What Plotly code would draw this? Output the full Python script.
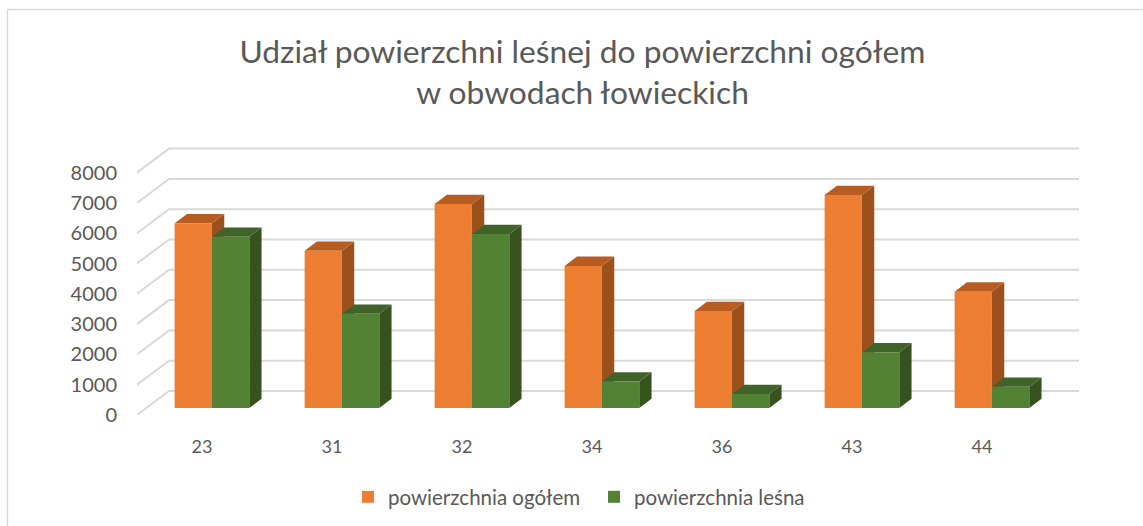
import plotly.graph_objects as go

title = "Udział powierzchni leśnej do powierzchni ogółem<br>w obwodach łowieckich"
categories = ["23", "31", "32", "34", "36", "43", "44"]
series_total_name = "powierzchnia ogółem"
series_forest_name = "powierzchnia leśna"
total = [6095, 5190, 6730, 4690, 3200, 7030, 3840]
forest = [5650, 3110, 5740, 875, 460, 1840, 700]
y_ticks = [0, 1000, 2000, 3000, 4000, 5000, 6000, 7000, 8000]

W, H = 1143, 526
X0, X1, Y0, YT = 137, 1085, 415, 140   # plot area in pixels
PX_CAT, PX_K = 130.0, 30.3             # px per category, px per 1000
xmax = (X1 - X0) / PX_CAT
ymax = (Y0 - YT) / PX_K * 1000
WALL_DX, WALL_DY = 32 / PX_CAT, 24 / PX_K * 1000   # depth of the floor
BAR_DX, BAR_DY = 12.3 / PX_CAT, 9.3 / PX_K * 1000  # depth of one bar
BASE = 7 / PX_K * 1000
BAR_W = 37.3 / PX_CAT
SHIFT_T, SHIFT_F = 0.433, 0.720
wall_end = (1079 - X0) / PX_CAT

ORANGE, ORANGE_TOP, ORANGE_SIDE = "#ED7D31", "#B85D22", "#9C511D"
GREEN, GREEN_TOP, GREEN_SIDE = "#548235", "#3F6328", "#35521F"
GRID, TEXT = "#D9D9D9", "#595959"
FONT = "Lato"

fig = go.Figure()

for v in y_ticks:
    fig.add_trace(go.Scatter(
        x=[0, WALL_DX, wall_end], y=[v, v + WALL_DY, v + WALL_DY],
        mode="lines", line=dict(color=GRID, width=2),
        hoverinfo="skip", showlegend=False))

def faces(xs, vals, top_c, side_c):
    for x, v in zip(xs, vals):
        l, r, b, t = x - BAR_W / 2, x + BAR_W / 2, BASE, BASE + v
        fig.add_trace(go.Scatter(
            x=[r, r + BAR_DX, r + BAR_DX, r, r], y=[b, b + BAR_DY, t + BAR_DY, t, b],
            fill="toself", fillcolor=side_c, mode="lines", line=dict(width=0, color=side_c),
            hoverinfo="skip", showlegend=False))
        fig.add_trace(go.Scatter(
            x=[l, r, r + BAR_DX, l + BAR_DX, l], y=[t, t, t + BAR_DY, t + BAR_DY, t],
            fill="toself", fillcolor=top_c, mode="lines", line=dict(width=0, color=top_c),
            hoverinfo="skip", showlegend=False))

x_total = [i + SHIFT_T for i in range(len(categories))]
x_forest = [i + SHIFT_F for i in range(len(categories))]
faces(x_total, total, ORANGE_TOP, ORANGE_SIDE)
faces(x_forest, forest, GREEN_TOP, GREEN_SIDE)

fig.add_trace(go.Bar(x=x_total, y=total, base=BASE, width=BAR_W, name=series_total_name,
                     marker=dict(color=ORANGE, line=dict(width=0)), xaxis="x2", yaxis="y2"))
fig.add_trace(go.Bar(x=x_forest, y=forest, base=BASE, width=BAR_W, name=series_forest_name,
                     marker=dict(color=GREEN, line=dict(width=0)), xaxis="x2", yaxis="y2"))

dom_x = [X0 / W, X1 / W]
dom_y = [(H - Y0) / H, (H - YT) / H]
border = dict(type="line", xref="paper", yref="paper", line=dict(color=GRID, width=1.5), layer="below")
fig.update_layout(
    width=W, height=H, autosize=False,
    margin=dict(l=0, r=0, t=0, b=0, autoexpand=False),
    paper_bgcolor="white", plot_bgcolor="white",
    barmode="overlay",
    font=dict(family=FONT, color=TEXT, size=18),
    title=dict(text=title, x=582.5 / W, xanchor="center", y=1 - 63 / H, yanchor="top",
               font=dict(size=31.75, color=TEXT, family=FONT)),
    xaxis=dict(domain=dom_x, range=[0, xmax], showgrid=False, zeroline=False, showline=False,
               tickmode="array", tickvals=[i + 0.5 for i in range(len(categories))],
               ticktext=categories, ticks="", ticklabelstandoff=19,
               tickfont=dict(size=18, color=TEXT, family=FONT)),
    yaxis=dict(domain=dom_y, range=[0, ymax], showgrid=False, zeroline=False, showline=False,
               tickmode="array", tickvals=y_ticks, ticks="", ticklabelstandoff=19,
               tickfont=dict(size=20, color=TEXT, family=FONT)),
    xaxis2=dict(domain=dom_x, range=[0, xmax], overlaying="x", visible=False),
    yaxis2=dict(domain=dom_y, range=[0, ymax], overlaying="y", visible=False),
    legend=dict(orientation="h", x=348 / W, y=1 - 477 / H, xanchor="left", yanchor="top",
                font=dict(size=20.5, color=TEXT, family=FONT), traceorder="normal",
                entrywidth=201, entrywidthmode="pixels",
                itemclick=False, itemdoubleclick=False),
    shapes=[dict(border, x0=7.5 / W, x1=1, y0=1 - 9.5 / H, y1=1 - 9.5 / H),
            dict(border, x0=7.5 / W, x1=7.5 / W, y0=0, y1=1 - 9.5 / H)],
)

fig.write_html("out.html", config={"displayModeBar": False},
               post_script="document.body.style.margin='0';document.body.style.overflow='hidden';")
